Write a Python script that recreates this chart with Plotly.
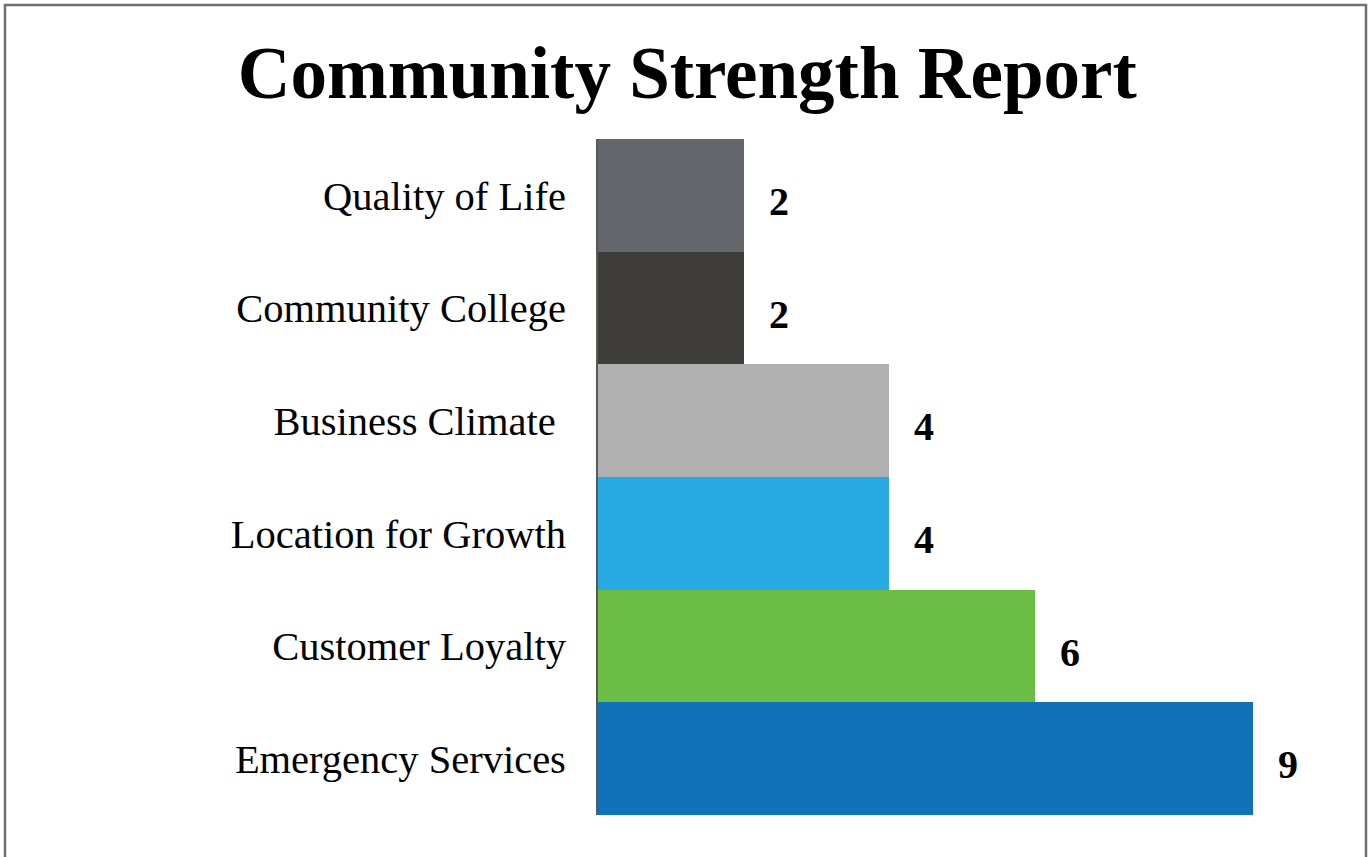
import plotly.graph_objects as go

# Community strength scores, listed top to bottom
categories = [
    "Quality of Life",
    "Community College",
    "Business Climate\u00a0",
    "Location for Growth",
    "Customer Loyalty",
    "Emergency Services",
]
scores = [2, 2, 4, 4, 6, 9]
bar_colors = ["#63666A", "#3E3D39", "#B1B1B1", "#29A9E1", "#6CBD45", "#1172BA"]

W, H = 1369, 857
ml, mr, mt, mb = 598, 29, 139, 42
x_max = 10.19

fig = go.Figure(
    go.Bar(
        x=scores,
        y=categories,
        orientation="h",
        marker=dict(color=bar_colors, line=dict(width=0)),
        hoverinfo="x+y",
    )
)

# Value labels to the right of each bar
for cat, val in zip(categories, scores):
    fig.add_annotation(
        x=val, y=cat, text=f"<b>{val}</b>",
        xanchor="left", yanchor="middle", xshift=23, yshift=-6,
        showarrow=False,
        font=dict(family="Liberation Serif", size=40, color="#000000"),
    )

# Frame around the chart (bottom edge runs past the page)
pw = W - ml - mr
ph = H - mt - mb
fig.add_shape(
    type="rect", xref="paper", yref="paper",
    x0=(5 - ml) / pw, x1=(1366 - ml) / pw,
    y0=(H - mb - 880) / ph, y1=(H - mb - 5) / ph,
    line=dict(color="#707070", width=2.5), fillcolor="rgba(0,0,0,0)",
    layer="above",
)

fig.update_layout(
    width=W, height=H,
    margin=dict(l=ml, r=mr, t=mt, b=mb),
    paper_bgcolor="white", plot_bgcolor="white",
    bargap=0,
    showlegend=False,
    title=dict(
        text="<b>Community Strength Report</b>",
        x=0.502, xanchor="center",
        yref="container", y=1 - 72 / H, yanchor="middle",
        font=dict(family="Liberation Serif", size=73, color="#000000"),
    ),
    xaxis=dict(
        range=[0, x_max], visible=False, showgrid=False, zeroline=False,
    ),
    yaxis=dict(
        autorange="reversed",
        showline=True, linecolor="#595959", linewidth=2,
        showgrid=False, zeroline=False, ticks="",
        ticklabelstandoff=22,
        tickfont=dict(family="Liberation Serif", size=40.5, color="#000000"),
    ),
)

fig.write_html("out.html")
